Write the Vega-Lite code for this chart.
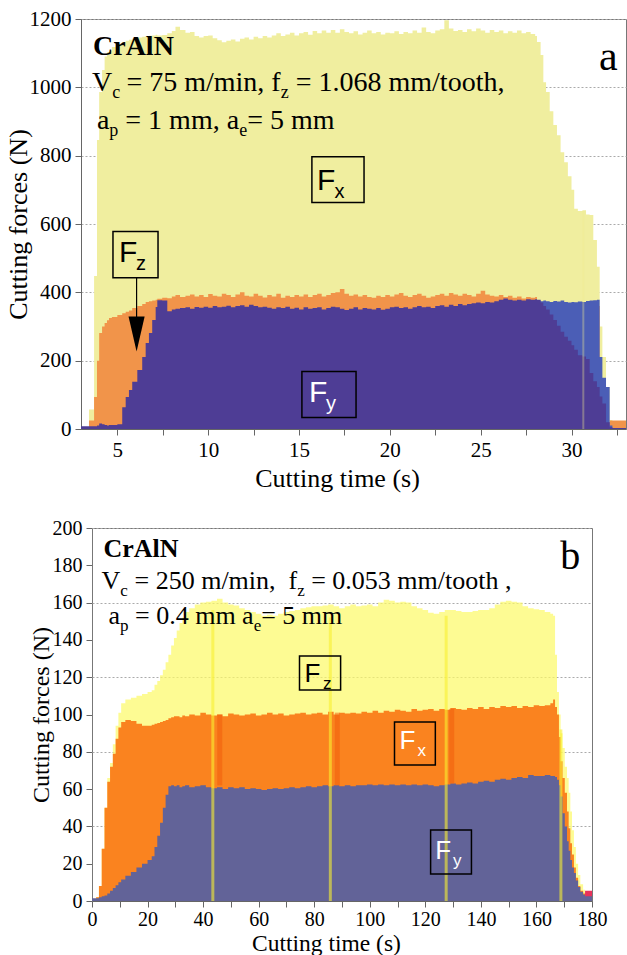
{
"$schema": "https://vega.github.io/schema/vega-lite/v6.json",
"background": "white",
"padding": {"left": 4, "top": 7, "right": 0, "bottom": 0},
"config": {
  "font": "Times New Roman, Liberation Serif, serif",
  "view": {"stroke": "#777"},
  "style": {"guide-label": {"font": "Times New Roman, Liberation Serif, serif"}, "guide-title": {"font": "Times New Roman, Liberation Serif, serif"}},
  "axis": {"labelFont": "Times New Roman, Liberation Serif, serif", "titleFont": "Times New Roman, Liberation Serif, serif", "labelFontSize": 21, "titleFontSize": 26, "titleFontWeight": "normal", "labelColor": "#000", "titleColor": "#000", "domainColor": "#666", "tickColor": "#666", "tickSize": 6, "gridColor": "#aaaaaa", "gridDash": [2, 2], "labelFlush": false, "labelOverlap": false, "labelPadding": 4, "titlePadding": 2}
},
"datasets": {
  "a": [
    {"t":3.0,"Fx":0,"Fz":0,"Fy":8},
    {"t":3.44,"Fx":57,"Fz":25,"Fy":8},
    {"t":3.72,"Fx":448,"Fz":94,"Fy":8},
    {"t":3.88,"Fx":846,"Fz":200,"Fy":10},
    {"t":4.0,"Fx":986,"Fz":281,"Fy":16},
    {"t":4.16,"Fx":1051,"Fz":300,"Fy":14},
    {"t":4.3,"Fx":1090,"Fz":310,"Fy":12},
    {"t":4.43,"Fx":1103,"Fz":318,"Fy":10},
    {"t":4.54,"Fx":1108,"Fz":325,"Fy":12},
    {"t":4.7,"Fx":1118,"Fz":328,"Fy":12},
    {"t":5.0,"Fx":1126,"Fz":334,"Fy":14},
    {"t":5.27,"Fx":1133,"Fz":339,"Fy":64},
    {"t":5.46,"Fx":1136,"Fz":343,"Fy":94},
    {"t":5.64,"Fx":1139,"Fz":347,"Fy":114},
    {"t":5.82,"Fx":1142,"Fz":354,"Fy":138},
    {"t":6.1,"Fx":1146,"Fz":360,"Fy":173},
    {"t":6.37,"Fx":1148,"Fz":366,"Fy":211},
    {"t":6.56,"Fx":1150,"Fz":372,"Fy":252},
    {"t":6.74,"Fx":1151,"Fz":374,"Fy":281},
    {"t":6.92,"Fx":1152,"Fz":376,"Fy":319},
    {"t":7.11,"Fx":1154,"Fz":378,"Fy":357},
    {"t":7.2,"Fx":1152,"Fz":381,"Fy":377},
    {"t":7.47,"Fx":1153,"Fz":384,"Fy":376},
    {"t":7.75,"Fx":1158,"Fz":383,"Fy":345},
    {"t":8.0,"Fx":1165,"Fz":388,"Fy":350},
    {"t":8.2,"Fx":1177,"Fz":392,"Fy":352},
    {"t":8.45,"Fx":1168,"Fz":386,"Fy":354},
    {"t":8.75,"Fx":1160,"Fz":390,"Fy":356},
    {"t":9.0,"Fx":1162,"Fz":394,"Fy":352},
    {"t":9.25,"Fx":1150,"Fz":388,"Fy":357},
    {"t":9.5,"Fx":1146,"Fz":392,"Fy":355},
    {"t":9.75,"Fx":1150,"Fz":386,"Fy":358},
    {"t":10.0,"Fx":1152,"Fz":395,"Fy":355},
    {"t":10.25,"Fx":1144,"Fz":390,"Fy":360},
    {"t":10.5,"Fx":1138,"Fz":388,"Fy":356},
    {"t":10.75,"Fx":1132,"Fz":396,"Fy":358},
    {"t":11.0,"Fx":1136,"Fz":392,"Fy":361},
    {"t":11.25,"Fx":1140,"Fz":386,"Fy":356},
    {"t":11.5,"Fx":1134,"Fz":394,"Fy":360},
    {"t":11.75,"Fx":1142,"Fz":400,"Fy":362},
    {"t":12.0,"Fx":1146,"Fz":390,"Fy":358},
    {"t":12.25,"Fx":1140,"Fz":388,"Fy":364},
    {"t":12.5,"Fx":1148,"Fz":396,"Fy":360},
    {"t":12.75,"Fx":1144,"Fz":390,"Fy":356},
    {"t":13.0,"Fx":1150,"Fz":385,"Fy":358},
    {"t":13.25,"Fx":1146,"Fz":392,"Fy":355},
    {"t":13.5,"Fx":1152,"Fz":388,"Fy":352},
    {"t":13.75,"Fx":1158,"Fz":396,"Fy":356},
    {"t":14.0,"Fx":1150,"Fz":384,"Fy":354},
    {"t":14.25,"Fx":1155,"Fz":390,"Fy":358},
    {"t":14.5,"Fx":1160,"Fz":386,"Fy":352},
    {"t":14.75,"Fx":1152,"Fz":392,"Fy":355},
    {"t":15.0,"Fx":1158,"Fz":388,"Fy":350},
    {"t":15.25,"Fx":1162,"Fz":394,"Fy":356},
    {"t":15.5,"Fx":1154,"Fz":386,"Fy":352},
    {"t":15.75,"Fx":1165,"Fz":392,"Fy":354},
    {"t":16.0,"Fx":1158,"Fz":396,"Fy":356},
    {"t":16.25,"Fx":1166,"Fz":388,"Fy":350},
    {"t":16.5,"Fx":1160,"Fz":392,"Fy":354},
    {"t":16.75,"Fx":1168,"Fz":398,"Fy":358},
    {"t":17.0,"Fx":1160,"Fz":400,"Fy":356},
    {"t":17.25,"Fx":1170,"Fz":410,"Fy":352},
    {"t":17.5,"Fx":1162,"Fz":396,"Fy":348},
    {"t":17.75,"Fx":1158,"Fz":390,"Fy":352},
    {"t":18.0,"Fx":1164,"Fz":394,"Fy":356},
    {"t":18.25,"Fx":1155,"Fz":388,"Fy":350},
    {"t":18.5,"Fx":1160,"Fz":392,"Fy":354},
    {"t":18.75,"Fx":1166,"Fz":386,"Fy":352},
    {"t":19.0,"Fx":1158,"Fz":384,"Fy":350},
    {"t":19.25,"Fx":1162,"Fz":390,"Fy":354},
    {"t":19.5,"Fx":1155,"Fz":386,"Fy":349},
    {"t":19.75,"Fx":1160,"Fz":392,"Fy":352},
    {"t":20.0,"Fx":1158,"Fz":388,"Fy":356},
    {"t":20.25,"Fx":1164,"Fz":394,"Fy":358},
    {"t":20.5,"Fx":1156,"Fz":398,"Fy":354},
    {"t":20.75,"Fx":1162,"Fz":390,"Fy":356},
    {"t":21.0,"Fx":1158,"Fz":386,"Fy":352},
    {"t":21.25,"Fx":1166,"Fz":392,"Fy":356},
    {"t":21.5,"Fx":1160,"Fz":396,"Fy":360},
    {"t":21.75,"Fx":1175,"Fz":390,"Fy":356},
    {"t":22.0,"Fx":1162,"Fz":384,"Fy":358},
    {"t":22.25,"Fx":1158,"Fz":388,"Fy":354},
    {"t":22.5,"Fx":1166,"Fz":392,"Fy":360},
    {"t":22.75,"Fx":1170,"Fz":396,"Fy":362},
    {"t":23.0,"Fx":1196,"Fz":390,"Fy":358},
    {"t":23.25,"Fx":1172,"Fz":398,"Fy":364},
    {"t":23.5,"Fx":1165,"Fz":394,"Fy":360},
    {"t":23.75,"Fx":1168,"Fz":390,"Fy":366},
    {"t":24.0,"Fx":1162,"Fz":396,"Fy":362},
    {"t":24.25,"Fx":1170,"Fz":392,"Fy":366},
    {"t":24.5,"Fx":1164,"Fz":388,"Fy":368},
    {"t":24.75,"Fx":1172,"Fz":396,"Fy":370},
    {"t":25.0,"Fx":1166,"Fz":405,"Fy":368},
    {"t":25.25,"Fx":1160,"Fz":394,"Fy":372},
    {"t":25.5,"Fx":1168,"Fz":390,"Fy":370},
    {"t":25.75,"Fx":1162,"Fz":388,"Fy":374},
    {"t":26.0,"Fx":1166,"Fz":392,"Fy":378},
    {"t":26.25,"Fx":1158,"Fz":386,"Fy":382},
    {"t":26.5,"Fx":1164,"Fz":390,"Fy":378},
    {"t":26.75,"Fx":1160,"Fz":384,"Fy":376},
    {"t":27.0,"Fx":1166,"Fz":388,"Fy":378},
    {"t":27.25,"Fx":1158,"Fz":382,"Fy":376},
    {"t":27.5,"Fx":1162,"Fz":386,"Fy":380},
    {"t":27.75,"Fx":1156,"Fz":384,"Fy":378},
    {"t":28.0,"Fx":1150,"Fz":386,"Fy":380},
    {"t":28.1,"Fx":1133,"Fz":360,"Fy":378,"Fb":376},
    {"t":28.3,"Fx":1095,"Fz":360,"Fy":370,"Fb":374},
    {"t":28.45,"Fx":1015,"Fz":360,"Fy":360,"Fb":376},
    {"t":28.6,"Fx":986,"Fz":360,"Fy":350,"Fb":374},
    {"t":28.8,"Fx":930,"Fz":360,"Fy":335,"Fb":372},
    {"t":29.0,"Fx":890,"Fz":360,"Fy":319,"Fb":375},
    {"t":29.2,"Fx":860,"Fz":360,"Fy":302,"Fb":373},
    {"t":29.4,"Fx":810,"Fz":360,"Fy":285,"Fb":376},
    {"t":29.6,"Fx":781,"Fz":360,"Fy":270,"Fb":372},
    {"t":29.8,"Fx":740,"Fz":360,"Fy":258,"Fb":370},
    {"t":30.0,"Fx":700,"Fz":360,"Fy":245,"Fb":372},
    {"t":30.15,"Fx":645,"Fz":360,"Fy":232,"Fb":371},
    {"t":30.35,"Fx":638,"Fz":360,"Fy":216,"Fb":373},
    {"t":30.6,"Fx":640,"Fz":360,"Fy":212,"Fb":372},
    {"t":30.8,"Fx":628,"Fz":360,"Fy":205,"Fb":375},
    {"t":31.0,"Fx":626,"Fz":360,"Fy":164,"Fb":376},
    {"t":31.2,"Fx":553,"Fz":360,"Fy":140,"Fb":377},
    {"t":31.4,"Fx":475,"Fz":360,"Fy":123,"Fb":378},
    {"t":31.55,"Fx":300,"Fz":20,"Fy":95,"Fb":211},
    {"t":31.7,"Fx":211,"Fz":20,"Fy":75,"Fb":150},
    {"t":31.9,"Fx":123,"Fz":20,"Fy":20,"Fb":123},
    {"t":32.1,"Fx":26,"Fz":25,"Fy":5,"Fb":10},
    {"t":32.25,"Fx":0,"Fz":25,"Fy":3,"Fb":0},
    {"t":33.0,"Fx":0,"Fz":25,"Fy":3}
  ],
  "b": [
    {"t":0,"Fz":0,"Fx":0,"Fy":1.5},
    {"t":1.5,"Fz":2,"Fx":2,"Fy":1.5},
    {"t":2.5,"Fz":8,"Fx":8,"Fy":2},
    {"t":3.5,"Fz":28,"Fx":28,"Fy":2.5},
    {"t":4.5,"Fz":50,"Fx":50,"Fy":3},
    {"t":5.5,"Fz":66,"Fx":64,"Fy":4},
    {"t":6.5,"Fz":74,"Fx":72,"Fy":5.5},
    {"t":7.5,"Fz":84,"Fx":79,"Fy":7},
    {"t":8.5,"Fz":94,"Fx":87,"Fy":8.5},
    {"t":9.5,"Fz":101,"Fx":93,"Fy":10},
    {"t":10.5,"Fz":106,"Fx":96,"Fy":11.5},
    {"t":12,"Fz":108,"Fx":97,"Fy":13.5},
    {"t":14,"Fz":109,"Fx":96.5,"Fy":15.5},
    {"t":16,"Fz":110,"Fx":95,"Fy":18},
    {"t":18,"Fz":111,"Fx":94,"Fy":20},
    {"t":20,"Fz":112,"Fx":94,"Fy":22},
    {"t":21.5,"Fz":113,"Fx":94.5,"Fy":24},
    {"t":22.5,"Fz":116,"Fx":95,"Fy":29},
    {"t":23.5,"Fz":118,"Fx":95.5,"Fy":35},
    {"t":24.5,"Fz":121,"Fx":96,"Fy":42},
    {"t":25.5,"Fz":124,"Fx":96.5,"Fy":50},
    {"t":26.5,"Fz":128,"Fx":97,"Fy":57},
    {"t":27.5,"Fz":132,"Fx":98,"Fy":61.5},
    {"t":28.5,"Fz":137,"Fx":98.5,"Fy":62},
    {"t":29.5,"Fz":141,"Fx":99,"Fy":61.5},
    {"t":30.5,"Fz":145,"Fx":99,"Fy":62},
    {"t":31.5,"Fz":149,"Fx":98.5,"Fy":61},
    {"t":32.5,"Fz":152,"Fx":99.5,"Fy":61.5},
    {"t":33.5,"Fz":155,"Fx":99,"Fy":62},
    {"t":35,"Fz":157,"Fx":100,"Fy":61},
    {"t":37,"Fz":159,"Fx":99.5,"Fy":61.5},
    {"t":39,"Fz":160,"Fx":101,"Fy":62},
    {"t":41,"Fz":160.5,"Fx":100,"Fy":61},
    {"t":43,"Fz":161,"Fx":99.5,"Fy":60.5},
    {"t":45,"Fz":162,"Fx":100,"Fy":61},
    {"t":47,"Fz":160,"Fx":99,"Fy":60},
    {"t":49,"Fz":159,"Fx":100.5,"Fy":61},
    {"t":51,"Fz":158.5,"Fx":100,"Fy":60.5},
    {"t":53,"Fz":157,"Fx":99.5,"Fy":61},
    {"t":55,"Fz":156,"Fx":100,"Fy":60},
    {"t":57,"Fz":155,"Fx":100.5,"Fy":60.5},
    {"t":59,"Fz":154,"Fx":99.5,"Fy":60},
    {"t":61,"Fz":153,"Fx":100,"Fy":59.5},
    {"t":63,"Fz":153.5,"Fx":101,"Fy":60},
    {"t":65,"Fz":153,"Fx":100,"Fy":60.5},
    {"t":67,"Fz":154,"Fx":100.5,"Fy":60},
    {"t":69,"Fz":155,"Fx":99.5,"Fy":60.5},
    {"t":71,"Fz":155.5,"Fx":100,"Fy":61},
    {"t":73,"Fz":156,"Fx":100.5,"Fy":60.5},
    {"t":75,"Fz":157,"Fx":101,"Fy":61},
    {"t":77,"Fz":157.5,"Fx":100,"Fy":61.5},
    {"t":79,"Fz":158,"Fx":100.5,"Fy":61},
    {"t":81,"Fz":158,"Fx":101,"Fy":61.5},
    {"t":83,"Fz":158.5,"Fx":100,"Fy":62},
    {"t":85,"Fz":159,"Fx":101.5,"Fy":61.5},
    {"t":87,"Fz":158,"Fx":100,"Fy":62},
    {"t":89,"Fz":157,"Fx":101,"Fy":61.5},
    {"t":91,"Fz":158,"Fx":100.5,"Fy":62},
    {"t":93,"Fz":159,"Fx":101,"Fy":61.5},
    {"t":95,"Fz":158,"Fx":100.5,"Fy":62},
    {"t":97,"Fz":158.5,"Fx":101.5,"Fy":62},
    {"t":99,"Fz":159,"Fx":101,"Fy":62.5},
    {"t":101,"Fz":158,"Fx":102,"Fy":62},
    {"t":103,"Fz":160,"Fx":101,"Fy":62.5},
    {"t":105,"Fz":161.5,"Fx":102,"Fy":62},
    {"t":107,"Fz":161,"Fx":101.5,"Fy":62.5},
    {"t":109,"Fz":160,"Fx":102.5,"Fy":62},
    {"t":111,"Fz":160.5,"Fx":102,"Fy":62.5},
    {"t":113,"Fz":160,"Fx":101.5,"Fy":62},
    {"t":115,"Fz":158,"Fx":103,"Fy":62.5},
    {"t":117,"Fz":157,"Fx":102,"Fy":62},
    {"t":119,"Fz":156,"Fx":102.5,"Fy":62.5},
    {"t":121,"Fz":154.5,"Fx":103,"Fy":62},
    {"t":123,"Fz":154,"Fx":102,"Fy":61.5},
    {"t":125,"Fz":155,"Fx":103,"Fy":62},
    {"t":127,"Fz":156,"Fx":102.5,"Fy":62.5},
    {"t":129,"Fz":156,"Fx":103.5,"Fy":63},
    {"t":131,"Fz":155.5,"Fx":103,"Fy":62.5},
    {"t":133,"Fz":155,"Fx":102.5,"Fy":63},
    {"t":135,"Fz":155,"Fx":103.5,"Fy":63.5},
    {"t":137,"Fz":155.5,"Fx":103,"Fy":63},
    {"t":139,"Fz":156,"Fx":104,"Fy":64},
    {"t":141,"Fz":156,"Fx":103,"Fy":64.5},
    {"t":143,"Fz":157,"Fx":104,"Fy":64},
    {"t":145,"Fz":159,"Fx":103.5,"Fy":65},
    {"t":147,"Fz":160.5,"Fx":104.5,"Fy":65.5},
    {"t":149,"Fz":161,"Fx":104,"Fy":65},
    {"t":151,"Fz":160.5,"Fx":104.5,"Fy":66},
    {"t":153,"Fz":160,"Fx":103.5,"Fy":66.5},
    {"t":155,"Fz":158,"Fx":104.5,"Fy":66},
    {"t":157,"Fz":157,"Fx":104,"Fy":67.5},
    {"t":159,"Fz":156.5,"Fx":105,"Fy":67},
    {"t":161,"Fz":156,"Fx":104.5,"Fy":67},
    {"t":163,"Fz":155,"Fx":105,"Fy":67.5},
    {"t":165,"Fz":154,"Fx":106,"Fy":67},
    {"t":166,"Fz":153,"Fx":108,"Fy":67},
    {"t":166.7,"Fz":132,"Fx":104,"Fy":66.5},
    {"t":167.4,"Fz":112,"Fx":100,"Fy":65},
    {"t":168.1,"Fz":100,"Fx":88,"Fy":62},
    {"t":168.7,"Fz":90,"Fx":75,"Fy":56},
    {"t":169.4,"Fz":82,"Fx":66,"Fy":47},
    {"t":170.2,"Fz":72,"Fx":58,"Fy":40},
    {"t":171,"Fz":66,"Fx":48,"Fy":32},
    {"t":171.6,"Fz":58,"Fx":39,"Fy":27},
    {"t":172.2,"Fz":48,"Fx":31,"Fy":22},
    {"t":172.8,"Fz":38,"Fx":25,"Fy":18},
    {"t":173.5,"Fz":29,"Fx":18,"Fy":15},
    {"t":174.2,"Fz":20,"Fx":12.5,"Fy":11},
    {"t":175,"Fz":14,"Fx":8,"Fy":7.5},
    {"t":175.8,"Fz":9,"Fx":5.5,"Fy":5},
    {"t":176.8,"Fz":6,"Fx":4,"Fy":3.5},
    {"t":177.5,"Fz":4.5,"Fx":4,"Fy":2.5,"R":5.5},
    {"t":180,"Fz":4.5,"Fx":4,"Fy":2.5,"R":5.5}
  ]
},
"spacing": 26,
"vconcat": [
  {
    "width": 545,
    "height": 410,
    "encoding": {
      "x": {"field": "t", "type": "quantitative", "scale": {"domain": [3, 33], "nice": false, "zero": false},
            "axis": {"values": [5,7.5,10,12.5,15,17.5,20,22.5,25,27.5,30,32.5], "labelExpr": "datum.value % 5 === 0 ? datum.label : ''", "title": "Cutting time (s)", "grid": false, "labelFont": "Times New Roman, Liberation Serif, serif", "titleX": 256, "titleY": 57, "titleAlign": "center", "titleBaseline": "alphabetic"}}
    },
    "layer": [
      {"data": {"name": "a"}, "mark": {"type": "area", "interpolate": "step-after", "color": "#f0ee9f"},
       "encoding": {
         "y": {"field": "Fx", "type": "quantitative", "scale": {"domain": [0, 1200], "nice": false},
               "axis": {"values": [0,200,400,600,800,1000,1200], "format": "d", "title": "Cutting forces (N)", "grid": true, "titlePadding": -2, "labelFont": "Times New Roman, Liberation Serif, serif"}}}},
      {"data": {"name": "a"}, "mark": {"type": "area", "interpolate": "step-after", "color": "#f1944a"},
       "encoding": {"y": {"field": "Fz", "type": "quantitative", "title": "Cutting forces (N)"}}},
      {"data": {"name": "a"}, "mark": {"type": "area", "interpolate": "step-after", "color": "#4b5eb6"},
       "encoding": {"y": {"field": "Fb", "type": "quantitative", "title": "Cutting forces (N)"}}},
      {"data": {"name": "a"}, "mark": {"type": "area", "interpolate": "step-after", "color": "#4e3d95"},
       "encoding": {"y": {"field": "Fy", "type": "quantitative", "title": "Cutting forces (N)"}}},
      {"data": {"values": [{"t": 30.65, "v": 638}]}, "mark": {"type": "rule", "color": "#f0ec90", "opacity": 0.35, "strokeWidth": 2},
       "encoding": {"y": {"field": "v", "type": "quantitative", "title": "Cutting forces (N)"}, "y2": {"datum": 0}}},
      {"data": {"values": [{"t1": 15.71, "t2": 18.58, "v1": 797, "v2": 663}, {"t1": 4.76, "t2": 7.24, "v1": 578, "v2": 443}, {"t1": 15.16, "t2": 18.14, "v1": 168, "v2": 34}]},
       "mark": {"type": "rect", "fill": null, "stroke": "black", "strokeWidth": 1.5},
       "encoding": {"x": {"field": "t1", "type": "quantitative", "title": "Cutting time (s)"}, "x2": {"field": "t2"}, "y": {"field": "v1", "type": "quantitative", "title": "Cutting forces (N)"}, "y2": {"field": "v2"}}},
      {"data": {"values": [{"t": 6.06, "v1": 443, "v2": 320}]}, "mark": {"type": "rule", "color": "black", "strokeWidth": 1.2},
       "encoding": {"y": {"field": "v1", "type": "quantitative", "title": "Cutting forces (N)"}, "y2": {"field": "v2"}}},
      {"data": {"values": [{"t": 6.06, "v": 278}]}, "mark": {"type": "point", "shape": "M-0.46,-1L0.46,-1L0,1Z", "size": 1225, "filled": true, "color": "black", "opacity": 1},
       "encoding": {"y": {"field": "v", "type": "quantitative", "title": "Cutting forces (N)"}}},
      {"data": {"values": [{"t": 3.66, "v": 1096, "s": "CrAlN"}]}, "mark": {"type": "text", "font": "Times New Roman, Liberation Serif, serif", "fontSize": 28, "fontWeight": "bold", "align": "left", "baseline": "alphabetic", "color": "black"},
       "encoding": {"y": {"field": "v", "type": "quantitative", "title": "Cutting forces (N)"}, "text": {"field": "s"}}},
      {"data": {"values": [
         {"t": 3.605, "v": 988, "s": "V"}, {"t": 5.50, "v": 988, "s": "= 75 m/min, f"}, {"t": 14.82, "v": 988, "s": "= 1.068 mm/tooth,"},
         {"t": 3.88, "v": 877, "s": "a"}, {"t": 5.44, "v": 877, "s": "= 1 mm, a"}, {"t": 12.15, "v": 877, "s": "= 5 mm"}]},
       "mark": {"type": "text", "font": "Times New Roman, Liberation Serif, serif", "fontSize": 28, "align": "left", "baseline": "alphabetic", "color": "black"},
       "encoding": {"y": {"field": "v", "type": "quantitative", "title": "Cutting forces (N)"}, "text": {"field": "s"}}},
      {"data": {"values": [
         {"t": 4.717, "v": 988, "s": "c"}, {"t": 13.99, "v": 988, "s": "z"},
         {"t": 4.56, "v": 877, "s": "p"}, {"t": 11.71, "v": 877, "s": "e"}]},
       "mark": {"type": "text", "font": "Times New Roman, Liberation Serif, serif", "fontSize": 18, "dy": 7, "align": "left", "baseline": "alphabetic", "color": "black"},
       "encoding": {"y": {"field": "v", "type": "quantitative", "title": "Cutting forces (N)"}, "text": {"field": "s"}}},
      {"data": {"values": [{"t": 31.51, "v": 1052, "s": "a"}]}, "mark": {"type": "text", "font": "Times New Roman, Liberation Serif, serif", "fontSize": 42, "align": "left", "baseline": "alphabetic", "color": "black"},
       "encoding": {"y": {"field": "v", "type": "quantitative", "title": "Cutting forces (N)"}, "text": {"field": "s"}}},
      {"data": {"values": [{"t": 15.99, "v": 700, "s": "F"}, {"t": 5.09, "v": 490, "s": "F"}]},
       "mark": {"type": "text", "font": "Liberation Sans", "fontSize": 30, "align": "left", "baseline": "alphabetic", "color": "black"},
       "encoding": {"y": {"field": "v", "type": "quantitative", "title": "Cutting forces (N)"}, "text": {"field": "s"}}},
      {"data": {"values": [{"t": 16.95, "v": 700, "s": "x"}, {"t": 6.03, "v": 490, "s": "z"}]},
       "mark": {"type": "text", "font": "Liberation Sans", "fontSize": 20, "dy": 8, "align": "left", "baseline": "alphabetic", "color": "black"},
       "encoding": {"y": {"field": "v", "type": "quantitative", "title": "Cutting forces (N)"}, "text": {"field": "s"}}},
      {"data": {"values": [{"t": 15.55, "v": 80, "s": "F"}]},
       "mark": {"type": "text", "font": "Liberation Sans", "fontSize": 30, "align": "left", "baseline": "alphabetic", "color": "white"},
       "encoding": {"y": {"field": "v", "type": "quantitative", "title": "Cutting forces (N)"}, "text": {"field": "s"}}},
      {"data": {"values": [{"t": 16.48, "v": 80, "s": "y"}]},
       "mark": {"type": "text", "font": "Liberation Sans", "fontSize": 20, "dy": 8, "align": "left", "baseline": "alphabetic", "color": "white"},
       "encoding": {"y": {"field": "v", "type": "quantitative", "title": "Cutting forces (N)"}, "text": {"field": "s"}}}
    ]
  },
  {
    "spacing": 10,
    "bounds": "flush",
    "hconcat": [
      {
        "width": 1,
        "height": 373,
        "view": {"stroke": null},
        "data": {"values": [{"v": 0}, {"v": 200}]},
        "mark": {"type": "point", "opacity": 0},
        "encoding": {"y": {"field": "v", "type": "quantitative", "scale": {"domain": [0, 200], "nice": false},
          "axis": {"values": [0,20,40,60,80,100,120,140,160,180,200], "title": "Cutting forces (N)", "grid": false, "domain": false, "offset": -11, "labelFontSize": 20, "titleFontSize": 24, "titlePadding": -1, "labelFont": "Times New Roman, Liberation Serif, serif"}}}
      },
      {
        "width": 500,
        "height": 373,
        "encoding": {
          "x": {"field": "t", "type": "quantitative", "scale": {"domain": [0, 180], "nice": false, "zero": false},
                "axis": {"values": [0,10,20,30,40,50,60,70,80,90,100,110,120,130,140,150,160,170,180], "labelExpr": "datum.value % 20 === 0 ? datum.label : ''", "title": "Cutting time (s)", "grid": false, "labelFontSize": 20, "labelPadding": 2, "titleFontSize": 23.5, "titlePadding": 0, "labelFont": "Times New Roman, Liberation Serif, serif", "titleX": 234, "titleY": 49.5, "titleAlign": "center", "titleBaseline": "alphabetic"}}
        },
        "layer": [
          {"data": {"name": "b"}, "mark": {"type": "area", "interpolate": "step-after", "color": "#fcfa6a", "opacity": 0.72},
           "encoding": {
             "y": {"field": "Fz", "type": "quantitative", "scale": {"domain": [0, 200], "nice": false},
                   "axis": {"values": [0,20,40,60,80,100,120,140,160,180,200], "grid": true, "labels": false, "ticks": false, "domain": false, "title": null}}}},
          {"data": {"name": "b"}, "mark": {"type": "area", "interpolate": "step-after", "color": "#fa831f"},
           "encoding": {"y": {"field": "Fx", "type": "quantitative", "title": null}}},
          {"data": {"name": "b"}, "mark": {"type": "area", "interpolate": "step-after", "color": "#e8325a"},
           "encoding": {"y": {"field": "R", "type": "quantitative", "title": null}}},
          {"data": {"name": "b"}, "mark": {"type": "area", "interpolate": "step-after", "color": "#626398"},
           "encoding": {"y": {"field": "Fy", "type": "quantitative", "title": null}}},
          {"data": {"values": [{"t": 46, "v1": 62, "v2": 100}, {"t": 88.3, "v1": 62, "v2": 101}, {"t": 129.5, "v1": 63, "v2": 103}]},
           "mark": {"type": "rule", "color": "#f05a0a", "opacity": 0.5, "strokeWidth": 5},
           "encoding": {"y": {"field": "v1", "type": "quantitative", "title": null}, "y2": {"field": "v2"}}},
          {"data": {"values": [{"t": 43.5, "v": 156}, {"t": 85.8, "v": 152}, {"t": 127.5, "v": 153}, {"t": 168.8, "v": 92}]},
           "mark": {"type": "rule", "color": "#f8f030", "opacity": 0.6, "strokeWidth": 3},
           "encoding": {"y": {"field": "v", "type": "quantitative", "title": null}, "y2": {"datum": 0}}},
          {"data": {"values": [{"t1": 74.7, "t2": 89.5, "v1": 131.4, "v2": 113.1}, {"t1": 108.9, "t2": 123.6, "v1": 96, "v2": 72.9}, {"t1": 121.9, "t2": 136.6, "v1": 38.1, "v2": 14.5}]},
           "mark": {"type": "rect", "fill": null, "stroke": "black", "strokeWidth": 1.5},
           "encoding": {"x": {"field": "t1", "type": "quantitative", "title": "Cutting time (s)"}, "x2": {"field": "t2"}, "y": {"field": "v1", "type": "quantitative", "title": null}, "y2": {"field": "v2"}}},
          {"data": {"values": [{"t": 4.14, "v": 184.2, "s": "CrAlN"}]}, "mark": {"type": "text", "font": "Times New Roman, Liberation Serif, serif", "fontSize": 26, "fontWeight": "bold", "align": "left", "baseline": "alphabetic", "color": "black"},
           "encoding": {"y": {"field": "v", "type": "quantitative", "title": null}, "text": {"field": "s"}}},
          {"data": {"values": [
             {"t": 3.42, "v": 167.3, "s": "V"}, {"t": 15.3, "v": 167.3, "s": "= 250 m/min,\u00a0 f"}, {"t": 78.9, "v": 167.3, "s": "= 0.053 mm/tooth ,"},
             {"t": 5.94, "v": 148.5, "s": "a"}, {"t": 15.48, "v": 148.5, "s": "= 0.4 mm a"}, {"t": 60.9, "v": 148.5, "s": "= 5 mm"}]},
           "mark": {"type": "text", "font": "Times New Roman, Liberation Serif, serif", "fontSize": 26, "align": "left", "baseline": "alphabetic", "color": "black"},
           "encoding": {"y": {"field": "v", "type": "quantitative", "title": null}, "text": {"field": "s"}}},
          {"data": {"values": [
             {"t": 10.19, "v": 167.3, "s": "c"}, {"t": 73.9, "v": 167.3, "s": "z"},
             {"t": 10.08, "v": 148.5, "s": "p"}, {"t": 58.2, "v": 148.5, "s": "e"}]},
           "mark": {"type": "text", "font": "Times New Roman, Liberation Serif, serif", "fontSize": 17, "dy": 7, "align": "left", "baseline": "alphabetic", "color": "black"},
           "encoding": {"y": {"field": "v", "type": "quantitative", "title": null}, "text": {"field": "s"}}},
          {"data": {"values": [{"t": 168.6, "v": 178, "s": "b"}]}, "mark": {"type": "text", "font": "Times New Roman, Liberation Serif, serif", "fontSize": 40, "align": "left", "baseline": "alphabetic", "color": "black"},
           "encoding": {"y": {"field": "v", "type": "quantitative", "title": null}, "text": {"field": "s"}}},
          {"data": {"values": [{"t": 76.5, "v": 117.4, "s": "F"}]},
           "mark": {"type": "text", "font": "Liberation Sans", "fontSize": 26, "align": "left", "baseline": "alphabetic", "color": "black"},
           "encoding": {"y": {"field": "v", "type": "quantitative", "title": null}, "text": {"field": "s"}}},
          {"data": {"values": [{"t": 83.2, "v": 117.4, "s": "z"}]},
           "mark": {"type": "text", "font": "Liberation Sans", "fontSize": 17, "dy": 7, "align": "left", "baseline": "alphabetic", "color": "black"},
           "encoding": {"y": {"field": "v", "type": "quantitative", "title": null}, "text": {"field": "s"}}},
          {"data": {"values": [{"t": 110.7, "v": 81.5, "s": "F"}, {"t": 123.6, "v": 22.5, "s": "F"}]},
           "mark": {"type": "text", "font": "Liberation Sans", "fontSize": 26, "align": "left", "baseline": "alphabetic", "color": "white"},
           "encoding": {"y": {"field": "v", "type": "quantitative", "title": null}, "text": {"field": "s"}}},
          {"data": {"values": [{"t": 117.2, "v": 81.5, "s": "x"}, {"t": 130.0, "v": 22.5, "s": "y"}]},
           "mark": {"type": "text", "font": "Liberation Sans", "fontSize": 17, "dy": 7, "align": "left", "baseline": "alphabetic", "color": "white"},
           "encoding": {"y": {"field": "v", "type": "quantitative", "title": null}, "text": {"field": "s"}}}
        ]
      }
    ]
  }
]
}
